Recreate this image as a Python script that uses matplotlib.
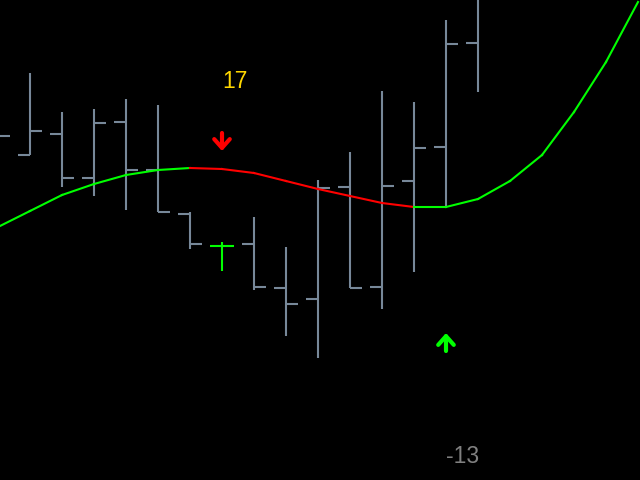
import matplotlib
matplotlib.use("Agg")
import matplotlib.pyplot as plt

# bar index 0..15 (price bars), 16..20 only for the projected line
bar_idx = list(range(16))
opens  = [134.0, 132.5, 134.6, 130.2, 135.8, 131.0, 126.6, 123.4, 123.6, 119.2, 118.1, 129.3, 119.3, 129.9, 133.3, 143.7]
highs  = [136.0, 140.7, 136.8, 137.1, 138.1, 137.5, 126.8, 123.8, 126.3, 123.3, 130.0, 132.8, 138.9, 137.8, 146.0, 152.0]
lows   = [133.0, 132.5, 129.3, 128.4, 127.0, 126.8, 123.1, 120.9, 119.0, 114.4, 112.2, 119.2, 117.1, 120.8, 127.3, 138.8]
closes = [134.4, 134.9, 130.2, 135.7, 131.0, 126.8, 123.6, 123.4, 119.3, 117.6, 129.2, 119.2, 129.4, 133.2, 143.6, 150.0]

line_idx = list(range(21))
line_vals = [125.3, 126.9, 128.5, 129.6, 130.5, 131.0, 131.2, 131.1, 130.7, 129.9, 129.1,
             128.4, 127.7, 127.3, 127.3, 128.1, 129.9, 132.5, 136.8, 141.8, 147.8]

sell_idx, sell_top, sell_tip = 7, 134.7, 132.9
buy_idx, buy_bottom, buy_tip = 14, 112.9, 114.7
top_label, bottom_label = "17", "-13"

bar_col = "#778899"
fig = plt.figure(figsize=(6.4, 4.8), dpi=100)
fig.patch.set_facecolor("black")
ax = fig.add_axes([0, 0, 1, 1])
ax.set_facecolor("black")

tick = 0.375
for i in bar_idx:
    c = "#00ff00" if opens[i] == closes[i] else bar_col
    ax.plot([i, i], [lows[i], highs[i]], color=c, lw=1.5, solid_capstyle="butt")
    ax.plot([i - tick, i], [opens[i], opens[i]], color=c, lw=1.5, solid_capstyle="butt")
    ax.plot([i, i + tick], [closes[i], closes[i]], color=c, lw=1.5, solid_capstyle="butt")

for k in range(len(line_idx) - 1):
    col = "red" if line_vals[k + 1] < line_vals[k] else "#00ff00"
    ax.plot(line_idx[k:k + 2], line_vals[k:k + 2], color=col, lw=1.5)

ax.annotate("", xy=(sell_idx, sell_tip), xytext=(sell_idx, sell_top),
            arrowprops=dict(arrowstyle="->,head_length=0.45,head_width=0.4", color="red",
                            lw=3, mutation_scale=14, shrinkA=0, shrinkB=0))
ax.annotate("", xy=(buy_idx, buy_tip), xytext=(buy_idx, buy_bottom),
            arrowprops=dict(arrowstyle="->,head_length=0.45,head_width=0.4", color="#00ff00",
                            lw=3, mutation_scale=14, shrinkA=0, shrinkB=0))

ax.text(7.41, 139.8, top_label, color="#ffd700", fontsize=16.5, family="Liberation Sans",
        ha="center", va="center")
ax.text(14.53, 102.3, bottom_label, color="gray", fontsize=16.5, family="Liberation Sans",
        ha="center", va="center")

ax.set_xlim(0.0625, 20.0625)
ax.set_ylim(100, 148)
ax.axis("off")

plt.savefig("out.png", dpi=100, facecolor="black")
